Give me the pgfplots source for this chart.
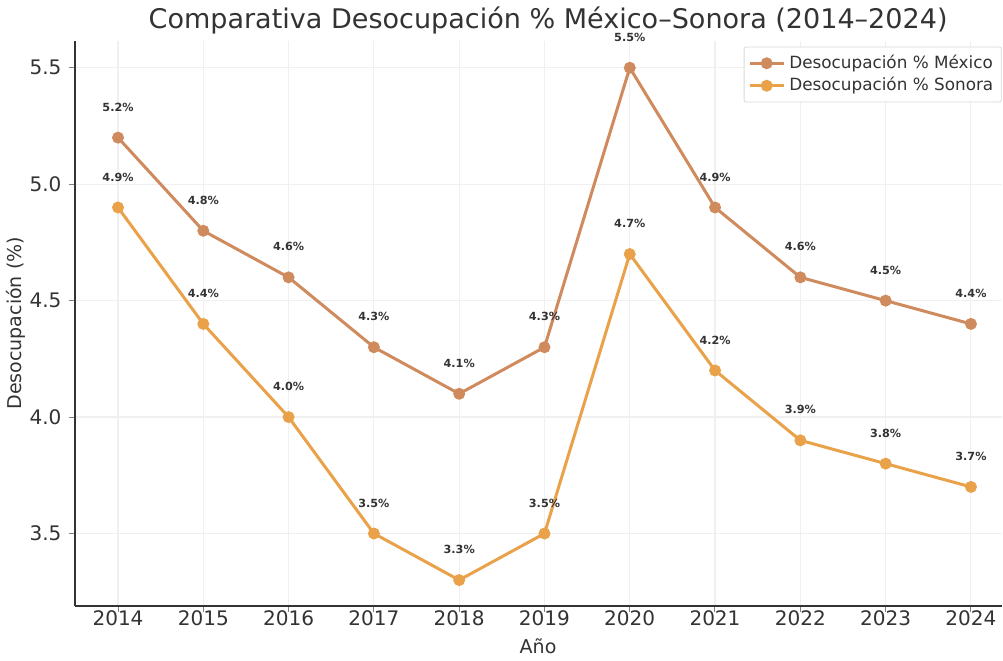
\documentclass[border=0pt]{standalone}
\usepackage{fontspec}
\setmainfont{DejaVu Sans}
\usepackage{pgfplots}
\pgfplotsset{compat=1.18}
\definecolor{mex}{HTML}{CF8A5E}
\definecolor{son}{HTML}{E9A24A}
\definecolor{txt}{HTML}{333333}
\begin{document}
\begin{tikzpicture}
\begin{axis}[
    scale only axis,
    width=463pt, height=282pt,
    xmin=2013.49, xmax=2024.36,
    ymin=3.19, ymax=5.615,
    xtick={2014,...,2024},
    ytick={3.5,4.0,4.5,5.0,5.5},
    xticklabel style={/pgf/number format/1000 sep={}, yshift=4pt},
    yticklabel style={/pgf/number format/.cd, fixed, fixed zerofill, precision=1},
    /pgf/number format/assume math mode=true,
    tick label style={font=\fontsize{10}{12}\selectfont, text=txt},
    title={Comparativa Desocupación \% México–Sonora (2014–2024)},
    title style={font=\fontsize{13.5}{15}\selectfont, text=txt, yshift=-6pt, xshift=5pt},
    xlabel={Año},
    ylabel={Desocupación (\%)},
    label style={font=\fontsize{9.5}{11}\selectfont, text=txt},
    xlabel style={yshift=0.5pt},
    ylabel style={yshift=-5pt},
    axis x line*=bottom, axis y line*=left,
    axis line style={txt, line width=1pt, -},
    tick style={gray, line width=0.5pt},
    tick align=outside, major tick length=3pt,
    grid=major,
    grid style={gray!12, line width=0.6pt},
    every axis plot/.append style={line width=1.5pt, mark=*, mark size=2.2pt},
    nodes near coords={\pgfmathprintnumber[fixed,fixed zerofill,precision=1]{\pgfplotspointmeta}\%},
    every node near coord/.append style={font=\bfseries\fontsize{5.6}{6}\selectfont, text=txt, anchor=south, yshift=9pt},
    legend style={at={(1.0,0.99)}, anchor=north east, draw=gray!30, rounded corners=1pt,
        font=\fontsize{8.4}{10}\selectfont, text=txt, row sep=-1pt, inner sep=2pt},
    legend cell align=left,
    clip=false,
]
\addplot[color=mex, mark options={fill=mex, draw=mex}] coordinates {
(2014,5.2) (2015,4.8) (2016,4.6) (2017,4.3) (2018,4.1) (2019,4.3)
(2020,5.5) (2021,4.9) (2022,4.6) (2023,4.5) (2024,4.4)
};
\addlegendentry{Desocupación \% México}
\addplot[color=son, mark options={fill=son, draw=son}] coordinates {
(2014,4.9) (2015,4.4) (2016,4.0) (2017,3.5) (2018,3.3) (2019,3.5)
(2020,4.7) (2021,4.2) (2022,3.9) (2023,3.8) (2024,3.7)
};
\addlegendentry{Desocupación \% Sonora}
\end{axis}
\end{tikzpicture}
\end{document}
